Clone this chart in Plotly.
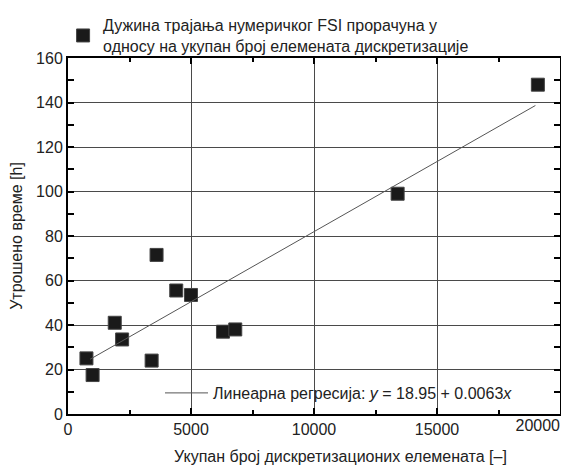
import plotly.graph_objects as go

# Data
elements = [750, 1000, 1900, 2200, 3400, 3600, 4400, 5000, 6300, 6800, 13400, 19100]
hours = [25, 17.5, 41, 33.5, 24, 71.5, 55.5, 53.5, 37, 38, 99, 148]

# Linear regression shown in the chart
reg_intercept = 18.95
reg_slope = 0.0063
reg_x = [900, 19000]
reg_y = [reg_intercept + reg_slope * v for v in reg_x]

x_ticks = [0, 5000, 10000, 15000]
x_last_tick = [20000]
y_ticks = [0, 20, 40, 60, 80, 100, 120, 140, 160]

FONT = "Liberation Sans, Arial, sans-serif"
TXT = "#222222"
fig = go.Figure()

# regression line drawn on the matched overlay axis (same scale as x)
fig.add_trace(go.Scatter(
    x=reg_x, y=reg_y, mode="lines", xaxis="x2", yaxis="y",
    line=dict(color="#555555", width=1),
    name="Линеарна регресија: <i>y</i> = 18.95 + 0.0063<i>x</i>",
    legend="legend2",
))
fig.add_trace(go.Scatter(
    x=elements, y=hours, mode="markers",
    marker=dict(symbol="square", size=13, color="#1a1a1a",
                line=dict(color="#444444", width=1)),
    name="Дужина трајања нумеричког FSI прорачуна у<br>односу на укупан број елемената дискретизације",
    legend="legend",
))

axis_common = dict(
    showline=True, linecolor="black", linewidth=2, mirror="allticks",
    ticks="inside", ticklen=6, tickwidth=2, tickcolor="black",
    showgrid=True, gridcolor="#4a4a4a", gridwidth=1,
    zeroline=False, automargin=False,
    tickfont=dict(family=FONT, size=16, color=TXT),
)

fig.update_layout(
    xaxis=dict(
        range=[0, 20000], tickvals=x_ticks + x_last_tick,
        ticktext=[str(v) for v in x_ticks] + [""],
        minor=dict(ticks="inside", ticklen=4, tickwidth=2, tickcolor="black",
                   dtick=2500, tick0=0, showgrid=False),
        **axis_common,
    ),
    # overlay axis only to place the last label flush left of the right border
    xaxis2=dict(
        overlaying="x", side="bottom", anchor="y", matches="x",
        range=[0, 20000], tickvals=x_last_tick,
        ticktext=[str(v) for v in x_last_tick],
        ticklabelposition="outside left", ticks="", showline=False,
        showgrid=False, zeroline=False, automargin=False,
        tickfont=dict(family=FONT, size=16, color=TXT),
    ),
    yaxis=dict(
        range=[0, 160], tickvals=y_ticks,
        title=dict(text="Утрошено време [h]", font=dict(family=FONT, size=16, color=TXT), standoff=9),
        minor=dict(ticks="inside", ticklen=4, tickwidth=2, tickcolor="black",
                   dtick=10, tick0=0, showgrid=False),
        **axis_common,
    ),
)

fig.add_annotation(
    text="Укупан број дискретизационих елемената [–]",
    xref="paper", yref="paper", x=0.553, y=-0.12,
    xanchor="center", yanchor="middle", showarrow=False,
    font=dict(family=FONT, size=16, color=TXT),
)

# The page body adds an 8px offset, so the figure is 8px smaller and margins shifted.
fig.update_layout(
    width=561, height=458,
    margin=dict(l=60, r=9, t=50, b=52, autoexpand=False),
    paper_bgcolor="white", plot_bgcolor="white",
    font=dict(family=FONT, size=16, color=TXT),
    legend=dict(x=-0.01, y=1.14, xanchor="left", yanchor="top",
                bgcolor="rgba(0,0,0,0)", font=dict(family=FONT, size=16, color=TXT),
                itemwidth=30, tracegroupgap=0),
    legend2=dict(x=0.187, y=0.059, xanchor="left", yanchor="middle",
                 bgcolor="rgba(0,0,0,0)", font=dict(family=FONT, size=16, color=TXT),
                 itemwidth=43),
    showlegend=True,
)

fig.write_html("out.html")
